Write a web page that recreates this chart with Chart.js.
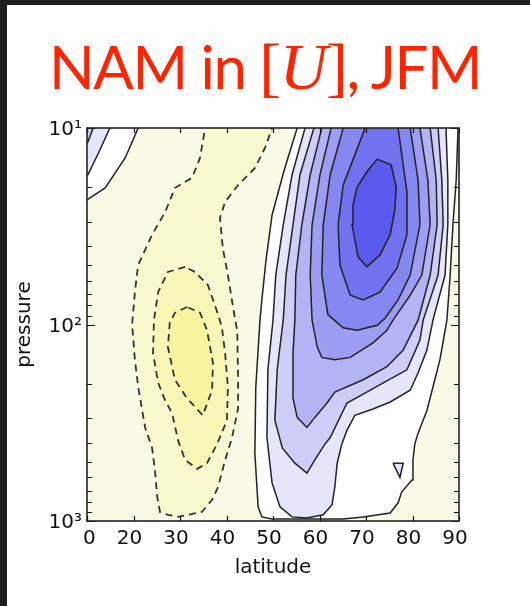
<!DOCTYPE html>
<html>
<head>
<meta charset="utf-8">
<script src="https://cdn.jsdelivr.net/npm/chart.js@4.4.1/dist/chart.umd.min.js"></script>
<style>
  html, body { margin: 0; padding: 0; background: #fff; }
  body { width: 530px; height: 606px; position: relative; overflow: hidden; }
  #frame-top { position: absolute; left: 0; top: 0; width: 530px; height: 5px; background: #1e1e1e; z-index: 2; }
  #frame-left { position: absolute; left: 0; top: 0; width: 7px; height: 606px; background: #1e1e1e; z-index: 2; }
  #title { position: absolute; left: 49px; top: 35px; margin: 0; font: 400 60px Lato; line-height: 62px; letter-spacing: -1.5px; color: #ff2400; white-space: nowrap; z-index: 1; }
  #title .br { font-family: "Liberation Serif"; font-size: 66px; }
  #title .u { font-family: "Liberation Serif"; font-style: italic; font-size: 66px; }
  #wrap { position: absolute; left: 0; top: 0; width: 530px; height: 606px; }
</style>
</head>
<body>
<div id="frame-top"></div>
<div id="frame-left"></div>
<div id="title">NAM in <span class="br">[</span><span class="u">U</span><span class="br">]</span>, JFM</div>
<div id="wrap"><canvas id="chart-nam" width="530" height="606"></canvas></div>
<script>
// axis ticks
const latTicks = [10, 20, 30, 40, 50, 60, 70, 80, 90];
const xTickLabels = ["\u20070", "20", "30", "40", "50", "60", "70", "80", "90"];
const pressureTicks = [10, 20, 30, 40, 50, 60, 70, 80, 90, 100, 200, 300, 400, 500, 600, 700, 800, 900, 1000];
const yDecades = [10, 100, 1000];
const yTickLabels = ["10\u00b9", "10\u00b2", "10\u00b3"];

// contours, [latitude, pressure]
// (points at lat 8 or p 8 sit just outside the frame to close the shape)
const zeroTopLeft = [[21.0, 8], [21.0, 10], [18.2, 14.2], [13.9, 20.2], [10.0, 23.2], [8, 24.5], [8, 8]];
const c1TopLeft = [[14.9, 8], [14.9, 10], [12.8, 12.9], [10.2, 17.3], [8, 18.8], [8, 8]];
const c2TopLeft = [[11.3, 8], [11.3, 10], [10.2, 11.8], [8, 12.8], [8, 8]];

const neg1 = [
  [35.4, 8], [35.4, 10], [34.3, 14.2], [32.6, 17.9], [28.9, 20.2], [26.8, 26.8], [24.0, 34.9],
  [21.0, 49.8], [20.3, 68.4], [19.7, 100], [20.3, 151], [21.0, 208], [22.5, 334], [24.0, 425],
  [24.6, 549], [25.1, 753], [25.7, 900], [27.4, 930], [29.6, 953], [31.7, 930], [34.7, 900],
  [36.9, 780], [38.2, 671], [39.7, 489], [41.2, 376], [42.5, 267], [42.5, 191], [42.3, 107],
  [41.8, 93], [40.3, 56], [39.2, 40.8], [38.6, 28.7], [39.7, 23.8], [42.5, 19.5], [46.1, 16.0],
  [48.3, 12.6], [49.8, 10], [49.8, 8],
];
const neg2 = [
  [31.1, 50.9], [27.4, 54.0], [25.3, 68.4], [24.4, 95], [24.2, 140], [25.3, 198], [26.8, 243],
  [28.3, 283], [29.6, 390], [31.1, 489], [33.7, 543], [35.8, 508], [38.0, 405], [40.1, 307],
  [40.3, 208], [39.7, 140], [39.0, 103], [38.2, 89], [36.0, 63], [33.2, 54],
];
const neg3 = [
  [31.5, 81.5], [28.9, 87.2], [27.8, 98], [27.4, 130], [28.9, 191], [31.5, 237], [34.9, 290],
  [36.9, 216], [37.1, 157], [35.8, 107], [34.3, 87],
];

const zeroMain = [
  [55.2, 8], [55.2, 10], [52.4, 16.4], [49.8, 27.7], [48.5, 47], [47.6, 75], [47.2, 95],
  [46.3, 208], [46.1, 452], [46.8, 847], [47.6, 953], [49.8, 976], [65.1, 976], [69.4, 953],
  [75.2, 910], [76.9, 808], [77.7, 710], [79.9, 618], [80.1, 489], [80.5, 405], [81.2, 358],
  [83.1, 274], [84.4, 208], [85.9, 151], [87.4, 95], [88.1, 56], [88.7, 31], [89.4, 18.4],
  [89.8, 10], [89.8, 8],
];
const pos1 = [
  [56.9, 8], [56.9, 10], [54.1, 17.3], [52.2, 31.1], [50.6, 56], [50.0, 95], [48.9, 170],
  [48.7, 376], [49.8, 640], [51.5, 847], [54.1, 953], [57.3, 965], [60.8, 930], [62.7, 827],
  [63.3, 671], [63.8, 508], [64.8, 405], [65.9, 346], [67.6, 290], [71.5, 269], [75.2, 248],
  [79.5, 216], [81.2, 176], [83.1, 135], [84.4, 95], [87.0, 56], [87.6, 31], [87.6, 18.4],
  [87.2, 10], [87.2, 8],
];
const pos1Small = [[75.8, 508], [78.0, 508], [77.3, 600]];
const pos2 = [
  [58.8, 8], [58.8, 10], [55.8, 17.3], [54.3, 31.1], [52.8, 56], [52.2, 95], [50.9, 170],
  [50.4, 307], [52.0, 425], [54.7, 508], [57.3, 570], [59.0, 489], [61.2, 405], [62.3, 376],
  [65.9, 251], [69.4, 226], [73.7, 198], [78.8, 170], [81.6, 120], [82.3, 95], [85.5, 56],
  [86.6, 31], [86.3, 18.4], [85.5, 10], [85.5, 8],
];
const pos3 = [
  [60.5, 8], [60.5, 10], [58.0, 17.3], [56.2, 31.1], [54.9, 56], [54.7, 95], [54.3, 140],
  [54.3, 237], [55.2, 297], [57.3, 334], [59.0, 297], [61.6, 251], [63.3, 221], [69.4, 191],
  [74.5, 164], [78.0, 135], [81.2, 95], [83.8, 56], [85.3, 31], [85.1, 18.4], [83.8, 10], [83.8, 8],
];
const pos4 = [
  [62.5, 8], [62.5, 10], [60.1, 17.3], [58.4, 31.1], [58.0, 56], [58.4, 95], [59.5, 130],
  [60.5, 147], [63.3, 151], [66.6, 147], [71.5, 124], [74.5, 107], [75.8, 95], [79.5, 71],
  [82.0, 56], [83.8, 31], [83.3, 18.4], [81.6, 10], [81.6, 8],
];
const pos5 = [
  [65.1, 8], [65.1, 10], [62.3, 17.3], [60.8, 31.1], [60.5, 56], [61.8, 89], [65.1, 104],
  [68.1, 107], [72.4, 101], [74.1, 93], [76.9, 75], [79.5, 56], [81.6, 31], [81.2, 18.4],
  [79.5, 10], [79.5, 8],
];
const pos6 = [
  [69.8, 8], [69.8, 10], [67.6, 13.7], [65.1, 19.5], [64.0, 31.1], [64.4, 49.8], [66.6, 71],
  [69.4, 75], [73.0, 68.4], [76.7, 51.5], [78.8, 34.9], [78.8, 21.2], [77.7, 13.7], [76.9, 10], [76.9, 8],
];
const pos7 = [
  [72.4, 14.4], [75.4, 15.4], [76.5, 20.0], [76.2, 26.1], [75.2, 34.9], [73.0, 44.3], [70.2, 50.9],
  [68.3, 45.3], [67.0, 31.1], [67.2, 24.7], [68.1, 20.0], [70.2, 16.7],
];

// band colours
const yellowBg = "#fafbe6";
const yellow2 = "#f9f9cf";
const yellow3 = "#f9f7b8";
const yellow4 = "#f8f4a0";
const blue1 = "#e6e6fb";
const blue2 = "#cdcdf8";
const blue3 = "#b4b4f5";
const blue4 = "#9d9df3";
const blue5 = "#8787f1";
const blue6 = "#7272f0";
const blue7 = "#5a5aef";

function contour(label, points, color, dashed) {
  const data = points.map(([lat, p]) => ({ x: lat, y: p }));
  data.push(data[0]);
  return {
    label: label,
    data: data,
    showLine: true,
    fill: "shape",
    backgroundColor: color,
    borderColor: dashed ? "#333" : "#222",
    borderWidth: dashed ? 1.8 : 1.5,
    borderDash: dashed ? [7, 5] : [],
    pointRadius: 0,
    pointHoverRadius: 0,
    tension: 0,
  };
}

// painted bottom to top
const layers = [
  contour("zero TL", zeroTopLeft, "#ffffff", false),
  contour("c1 TL", c1TopLeft, blue1, false),
  contour("c2 TL", c2TopLeft, blue2, false),
  contour("-1", neg1, yellow2, true),
  contour("-2", neg2, yellow3, true),
  contour("-3", neg3, yellow4, true),
  contour("0", zeroMain, "#ffffff", false),
  contour("1", pos1, blue1, false),
  contour("1b", pos1Small, blue1, false),
  contour("2", pos2, blue2, false),
  contour("3", pos3, blue3, false),
  contour("4", pos4, blue4, false),
  contour("5", pos5, blue5, false),
  contour("6", pos6, blue6, false),
  contour("7", pos7, blue7, false),
];

const plotBackground = {
  id: "plotBackground",
  beforeDatasetsDraw(chart) {
    const { ctx, chartArea: a } = chart;
    ctx.save();
    ctx.fillStyle = yellowBg;
    ctx.fillRect(a.left, a.top, a.right - a.left, a.bottom - a.top);
    ctx.restore();
  },
};

// inward ticks on all four sides plus the frame
const frameTicks = {
  id: "frameTicks",
  afterDatasetsDraw(chart) {
    const { ctx, chartArea: a, scales } = chart;
    ctx.save();
    ctx.strokeStyle = "#111";
    ctx.lineWidth = 1.2;
    ctx.beginPath();
    scales.x.ticks.forEach((t) => {
      const px = Math.round(scales.x.getPixelForValue(t.value)) + 0.5;
      ctx.moveTo(px, a.bottom);
      ctx.lineTo(px, a.bottom - 5);
      ctx.moveTo(px, a.top);
      ctx.lineTo(px, a.top + 5);
    });
    scales.y.ticks.forEach((t) => {
      const py = Math.round(scales.y.getPixelForValue(t.value)) + 0.5;
      const len = yDecades.includes(t.value) ? 8 : 5;
      ctx.moveTo(a.left, py);
      ctx.lineTo(a.left + len, py);
      ctx.moveTo(a.right, py);
      ctx.lineTo(a.right - len, py);
    });
    ctx.stroke();
    ctx.lineWidth = 1.6;
    ctx.strokeStyle = "#222";
    ctx.strokeRect(a.left, a.top, a.right - a.left, a.bottom - a.top);
    ctx.restore();
  },
};

Chart.defaults.font.family = '"DejaVu Sans"';
Chart.defaults.font.size = 20;
Chart.defaults.color = "#111";

const ctxNam = document.getElementById("chart-nam");
new Chart(ctxNam, {
  type: "scatter",
  data: { datasets: layers.slice().reverse() },
  options: {
    responsive: false,
    animation: false,
    devicePixelRatio: 1,
    layout: { padding: { left: 9, top: 128, right: 71, bottom: 23 } },
    plugins: { legend: { display: false }, tooltip: { enabled: false } },
    scales: {
      x: {
        type: "linear",
        min: 10,
        max: 90,
        afterBuildTicks: (scale) => { scale.ticks = latTicks.map((v) => ({ value: v })); },
        afterFit: (scale) => { scale.height = 62; },
        grid: { display: false, drawTicks: false },
        border: { display: false },
        ticks: {
          autoSkip: false,
          maxRotation: 0,
          padding: 6,
          labelOffset: -4,
          callback: (value, index) => xTickLabels[index],
        },
        title: { display: true, text: "latitude", padding: { top: 2, bottom: 3 } },
      },
      y: {
        type: "logarithmic",
        reverse: true,
        min: 10,
        max: 1000,
        afterBuildTicks: (scale) => { scale.ticks = pressureTicks.map((v) => ({ value: v })); },
        afterFit: (scale) => { scale.width = 78; },
        grid: { display: false, drawTicks: false },
        border: { display: false },
        ticks: {
          autoSkip: false,
          padding: 5,
          labelOffset: 2,
          callback: (value) => {
            const i = yDecades.indexOf(value);
            return i >= 0 ? yTickLabels[i] : "";
          },
        },
        title: { display: true, text: "pressure", padding: { top: 4, bottom: 4 } },
      },
    },
  },
  plugins: [plotBackground, frameTicks],
});
</script>
</body>
</html>
